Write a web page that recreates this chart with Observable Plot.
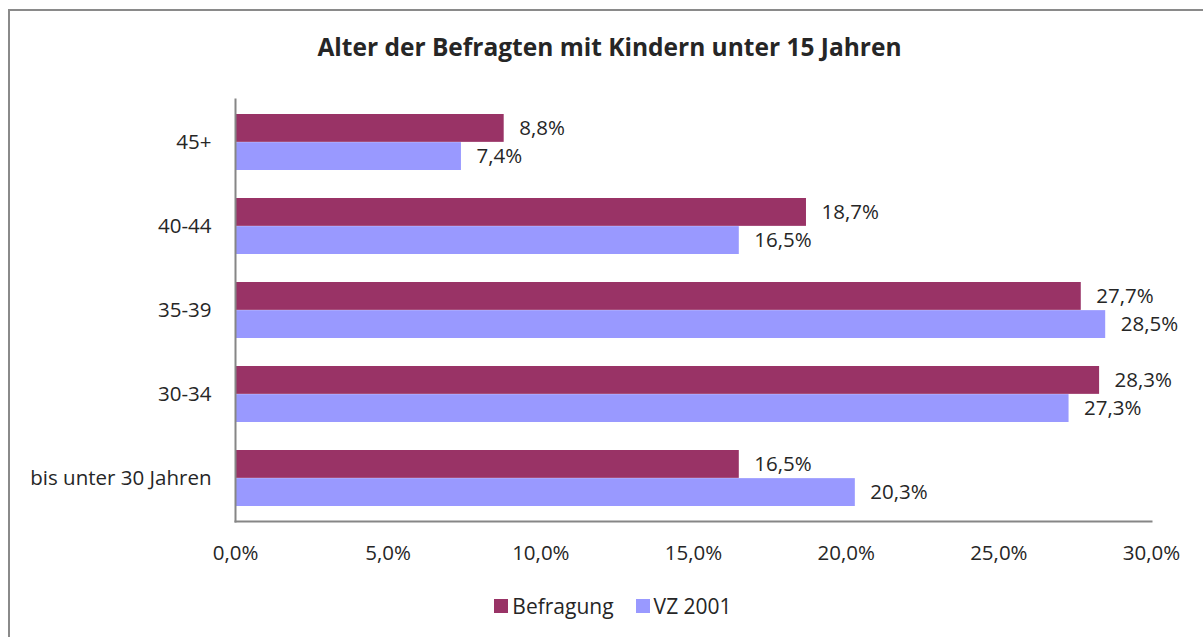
<!DOCTYPE html>
<html>
<head>
<meta charset="utf-8">
<script src="https://cdn.jsdelivr.net/npm/d3@7"></script>
<script src="https://cdn.jsdelivr.net/npm/@observablehq/plot@0.6"></script>
<style>
  html, body { margin: 0; padding: 0; background: #fff; overflow: hidden; }
  body { width: 1203px; height: 637px; position: relative; font-family: "Open Sans", sans-serif; color: #262626; }
  #border { position: absolute; left: 8px; top: 9px; width: 1400px; height: 800px; border: 2px solid #8a8a8a; box-sizing: border-box; }
  #title { position: absolute; left: 0; top: 30px; width: 1219px; text-align: center; font-weight: bold; font-size: 24.5px; }
  #chart { position: absolute; left: 0; top: 80px; }
  #legend { position: absolute; left: 0; top: 589px; width: 1226px; display: flex; justify-content: center; }
  #legend span > svg { margin-right: 4px !important; }
  #legend span { margin-right: 22px !important; }
  #legend span:last-child { margin-right: 0 !important; }
</style>
</head>
<body>
<div id="border"></div>
<div id="title">Alter der Befragten mit Kindern unter 15 Jahren</div>
<div id="chart"></div>
<div id="legend"></div>
<script>
const categories = ["bis unter 30 Jahren", "30-34", "35-39", "40-44", "45+"];
const series = ["Befragung", "VZ 2001"];
const befragung = [16.5, 28.3, 27.7, 18.7, 8.8];
const vz2001 = [20.3, 27.3, 28.5, 16.5, 7.4];
const xTicks = [0, 5, 10, 15, 20, 25, 30];
const colors = ["#993366", "#9999FF"];

const locale = d3.formatLocale({decimal: ",", thousands: ".", grouping: [3], currency: ["", "€"]});
const f1 = locale.format(".1f");
const pct = v => f1(v) + "%";

const dataB = categories.map((c, i) => ({cat: c, series: series[0], value: befragung[i]}));
const dataV = categories.map((c, i) => ({cat: c, series: series[1], value: vz2001[i]}));

const H = 500, MT = 19, MB = 59;
const pi = 0.333, po = 0.1667;
const step = (H - MT - MB) / (categories.length - pi + 2 * po);
const half = step * (1 - pi) / 2;
const FS = 20.5;

const chart = Plot.plot({
  width: 1203,
  height: H,
  marginLeft: 235,
  marginRight: 52,
  marginTop: MT,
  marginBottom: MB,
  style: {fontFamily: "'Open Sans', sans-serif", fontSize: FS + "px", color: "#262626", background: "transparent"},
  x: {domain: [0, 30], label: null},
  y: {domain: categories.slice().reverse(), paddingInner: pi, paddingOuter: po, label: null},
  color: {domain: series, range: colors},
  marks: [
    Plot.axisX({ticks: xTicks, tickFormat: pct, tickSize: 0, tickPadding: 24, fontSize: FS, fill: "#262626", label: null}),
    Plot.axisY({tickSize: 0, tickPadding: 24, fontSize: FS, fill: "#262626", label: null}),
    Plot.barX(dataB, {x: "value", y: "cat", fill: "series", insetBottom: half}),
    Plot.barX(dataV, {x: "value", y: "cat", fill: "series", insetTop: half}),
    Plot.text(dataB, {x: "value", y: "cat", text: d => pct(d.value), textAnchor: "start", dx: 15, dy: -half / 2, fontSize: FS, fill: "#262626"}),
    Plot.text(dataV, {x: "value", y: "cat", text: d => pct(d.value), textAnchor: "start", dx: 15, dy: half / 2, fontSize: FS, fill: "#262626"}),
    Plot.frame({anchor: "left", stroke: "#868686", strokeWidth: 2, strokeOpacity: 1}),
    Plot.frame({anchor: "bottom", stroke: "#868686", strokeWidth: 2, strokeOpacity: 1})
  ]
});
document.getElementById("chart").appendChild(chart);

const legend = Plot.legend({
  color: {domain: series, range: colors},
  legend: "swatches",
  swatchSize: 14,
  style: {fontSize: "21px", fontFamily: "'Open Sans', sans-serif", color: "#262626"}
});
document.getElementById("legend").appendChild(legend);
</script>
</body>
</html>
